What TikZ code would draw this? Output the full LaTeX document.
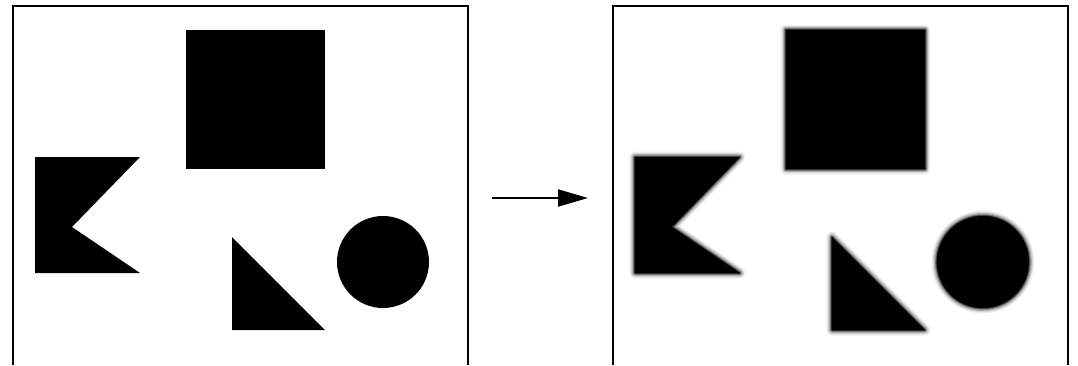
\documentclass[tikz,border=0pt]{standalone}
\usepackage{tikz}
\usetikzlibrary{arrows.meta}
% shape outlines, in pixel units of one panel
\newcommand{\sqpath}{(186,30) rectangle (325,169)}
\newcommand{\flagpath}{(35,157) -- (140,157) -- (72,227) -- (140,273) -- (35,273) -- cycle}
\newcommand{\tripath}{(232,237) -- (232,330) -- (325,330) -- cycle}
\newcommand{\circpath}{(383,262) circle[radius=46]}
% soft edge: grey rims under a black fill
\newcommand{\blurfill}[1]{%
  \foreach \w/\c in {11/6,8.5/16,6/32,3.5/55,1.5/80}{\draw[black!\c, line width=\w*0.02cm, line join=round] #1;}%
  \fill #1;}

\begin{document}
\begin{tikzpicture}[x=0.02cm,y=-0.02cm]
\useasboundingbox (0,0) rectangle (1078,365);
% sharp panel
\begin{scope}
\draw[line width=0.04cm] (13,365) -- (13,6) -- (468,6) -- (468,365);
\fill \sqpath;
\fill \flagpath;
\fill \tripath;
\fill \circpath;
\end{scope}
% arrow
\coordinate (arrstart) at (492,198);
\coordinate (arrend) at (588,198);
\draw[line width=0.04cm, -{Triangle[length=0.6cm,width=0.34cm]}] (arrstart) -- (arrend);
% blurred panel
\begin{scope}[xshift=12cm]
\draw[line width=0.04cm] (13,365) -- (13,6) -- (468,6) -- (468,365);
\blurfill{\sqpath}
\blurfill{\flagpath}
\blurfill{\tripath}
\blurfill{\circpath}
\end{scope}
\end{tikzpicture}
\end{document}
